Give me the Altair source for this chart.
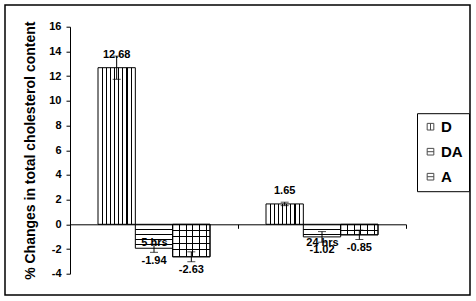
import altair as alt
import pandas as pd

# ---- data ----
groups = ["5 hrs", "24 hrs"]
series = ["D", "DA", "A"]
change_5h = [12.68, -1.94, -2.63]
change_24h = [1.65, -1.02, -0.85]
error_5h = [0.94, 0.33, 0.40]
error_24h = [0.14, 0.43, 0.38]
y_ticks = [-4, -2, 0, 2, 4, 6, 8, 10, 12, 14, 16]

rows = []
for g, vals, errs in [(groups[0], change_5h, error_5h), (groups[1], change_24h, error_24h)]:
    for s, v, e in zip(series, vals, errs):
        rows.append({"group": g, "series": s, "value": v, "err": e, "label": f"{v:.2f}"})
df = pd.DataFrame(rows)
df["lo"] = df["value"] - df["err"]
df["hi"] = df["value"] + df["err"]
df["mid"] = df["value"] / 2

FONT = "Liberation Sans"
W, H = 336, 247
Y_MIN, Y_MAX = -4, 16
PX = H / (Y_MAX - Y_MIN)
BAR_W = W / 2 * (2 / 3) / 3
PAD_L, PAD_T = 70, 26.7
Y0 = Y_MAX * PX
MINUS_FIX = "replace(datum.label, '\u2212', '-')"

TITLE = "% Changes in total cholesterol content"


def y_enc(field):
    return alt.Y(
        f"{field}:Q",
        scale=alt.Scale(domain=[Y_MIN, Y_MAX], nice=False, zero=False),
        axis=alt.Axis(values=y_ticks, grid=False, tickSize=4, labelPadding=5,
                      titlePadding=11, domainColor="black", tickColor="black",
                      labelExpr=MINUS_FIX),
        title=TITLE,
    )


base = alt.Chart(df).encode(
    x=alt.X("group:N", sort=groups,
            scale=alt.Scale(paddingInner=0, paddingOuter=0),
            axis=alt.Axis(title=None, orient="bottom", offset=-(H - Y0), labelAngle=0,
                          tickBand="extent", tickSize=4, labelPadding=8, zindex=1,
                          domainColor="black", tickColor="black")),
    xOffset=alt.XOffset("series:N", sort=series,
                        scale=alt.Scale(paddingInner=0, paddingOuter=0.75)),
)


def stripe_gradient(offsets, size_px, vertical_lines, bg="white"):
    half = 0.55 / size_px
    stops = [alt.GradientStop(offset=0, color=bg)]
    for f in offsets:
        a = max(0.0, f - half)
        b = min(1.0, f + half)
        stops += [alt.GradientStop(offset=a, color=bg), alt.GradientStop(offset=a, color="black"),
                  alt.GradientStop(offset=b, color="black"), alt.GradientStop(offset=b, color=bg)]
    stops.append(alt.GradientStop(offset=1, color=bg))
    if vertical_lines:
        return alt.LinearGradient(gradient="linear", stops=stops, x1=0, x2=1, y1=0, y2=0)
    return alt.LinearGradient(gradient="linear", stops=stops, x1=0, x2=0, y1=0, y2=1)


def spaced(size_px, step):
    out = []
    k = 1
    while k * step < size_px - 1.5:
        out.append(k * step / size_px)
        k += 1
    return out


# frame around the whole picture
frame = alt.Chart(pd.DataFrame({"f": [0]})).mark_rect(
    fillOpacity=0, stroke="black", strokeWidth=1.5
).encode(
    x=alt.value(5 - PAD_L), x2=alt.value(470 - PAD_L),
    y=alt.value(5 - PAD_T), y2=alt.value(295 - PAD_T),
)

sq = "M-1,-1H1V1H-1Z"
shape_paths = [sq + "M0,-1V1", sq + "M-1,0H1", sq + "M-1,0H1"]
legend_pts = base.mark_point(filled=False, color="black", strokeWidth=1, size=20).encode(
    y=y_enc("mid"),
    shape=alt.Shape("series:N", sort=series,
                    scale=alt.Scale(domain=series, range=shape_paths),
                    legend=alt.Legend(title=None, orient="none", legendX=347, legendY=86.5,
                                      strokeColor="black", fillColor="white", padding=6,
                                      symbolSize=44, symbolStrokeColor="black",
                                      symbolFillColor="white", symbolStrokeWidth=1,
                                      labelFont=FONT, labelFontSize=15, labelFontWeight="bold",
                                      labelColor="black", rowPadding=9, labelOffset=3)),
)

bar_layers = []
overlay_layers = []
for _, r in df.iterrows():
    h = abs(r["value"]) * PX
    if r["series"] == "D":
        fill = stripe_gradient([k / 9 for k in range(1, 9)], BAR_W, True)
    elif r["series"] == "DA":
        fill = stripe_gradient(spaced(h, 5.0), h, False)
    else:
        fill = stripe_gradient(spaced(BAR_W, 6.7), BAR_W, True)
    flt = (alt.datum.group == r["group"]) & (alt.datum.series == r["series"])
    bar_layers.append(
        base.transform_filter(flt).mark_bar(fill=fill, stroke="black", strokeWidth=1)
        .encode(y=y_enc("value"), y2=alt.datum(0))
    )
    if r["series"] == "A":
        over = stripe_gradient(spaced(h, 6.3), h, False, bg="rgba(255,255,255,0)")
        overlay_layers.append(
            base.transform_filter(flt).mark_bar(fill=over, stroke="black", strokeWidth=1)
            .encode(y=y_enc("value"), y2=alt.datum(0))
        )

err_rule = base.mark_rule(color="black", strokeWidth=1).encode(y=y_enc("lo"), y2="hi:Q")
cap_lo = base.mark_tick(color="black", size=8, thickness=1).encode(y=y_enc("lo"))
cap_hi = base.mark_tick(color="black", size=8, thickness=1).encode(y=y_enc("hi"))

txt_kw = dict(font=FONT, fontSize=11, fontWeight="bold", color="black", baseline="middle")
txt_pos = base.transform_filter(alt.datum.value > 0).mark_text(dy=-13, **txt_kw).encode(
    y=y_enc("value"), text="label:N")
txt_neg = base.transform_filter(alt.datum.value < 0).mark_text(dy=13, **txt_kw).encode(
    y=y_enc("value"), text="label:N")

chart = alt.layer(
    frame, legend_pts, *bar_layers, *overlay_layers, err_rule, cap_lo, cap_hi, txt_pos, txt_neg
).properties(
    width=W, height=H,
    padding={"left": PAD_L, "top": PAD_T, "right": 476 - PAD_L - W, "bottom": 301 - PAD_T - H},
    autosize=alt.AutoSizeParams(type="none"),
).configure_view(stroke=None).configure_axis(
    labelFont=FONT, labelFontSize=11, labelFontWeight="bold", labelColor="black",
    titleFont=FONT, titleFontSize=14, titleFontWeight="bold", titleColor="black",
)

chart.save("out.html", embed_options={"renderer": "svg", "actions": False})
